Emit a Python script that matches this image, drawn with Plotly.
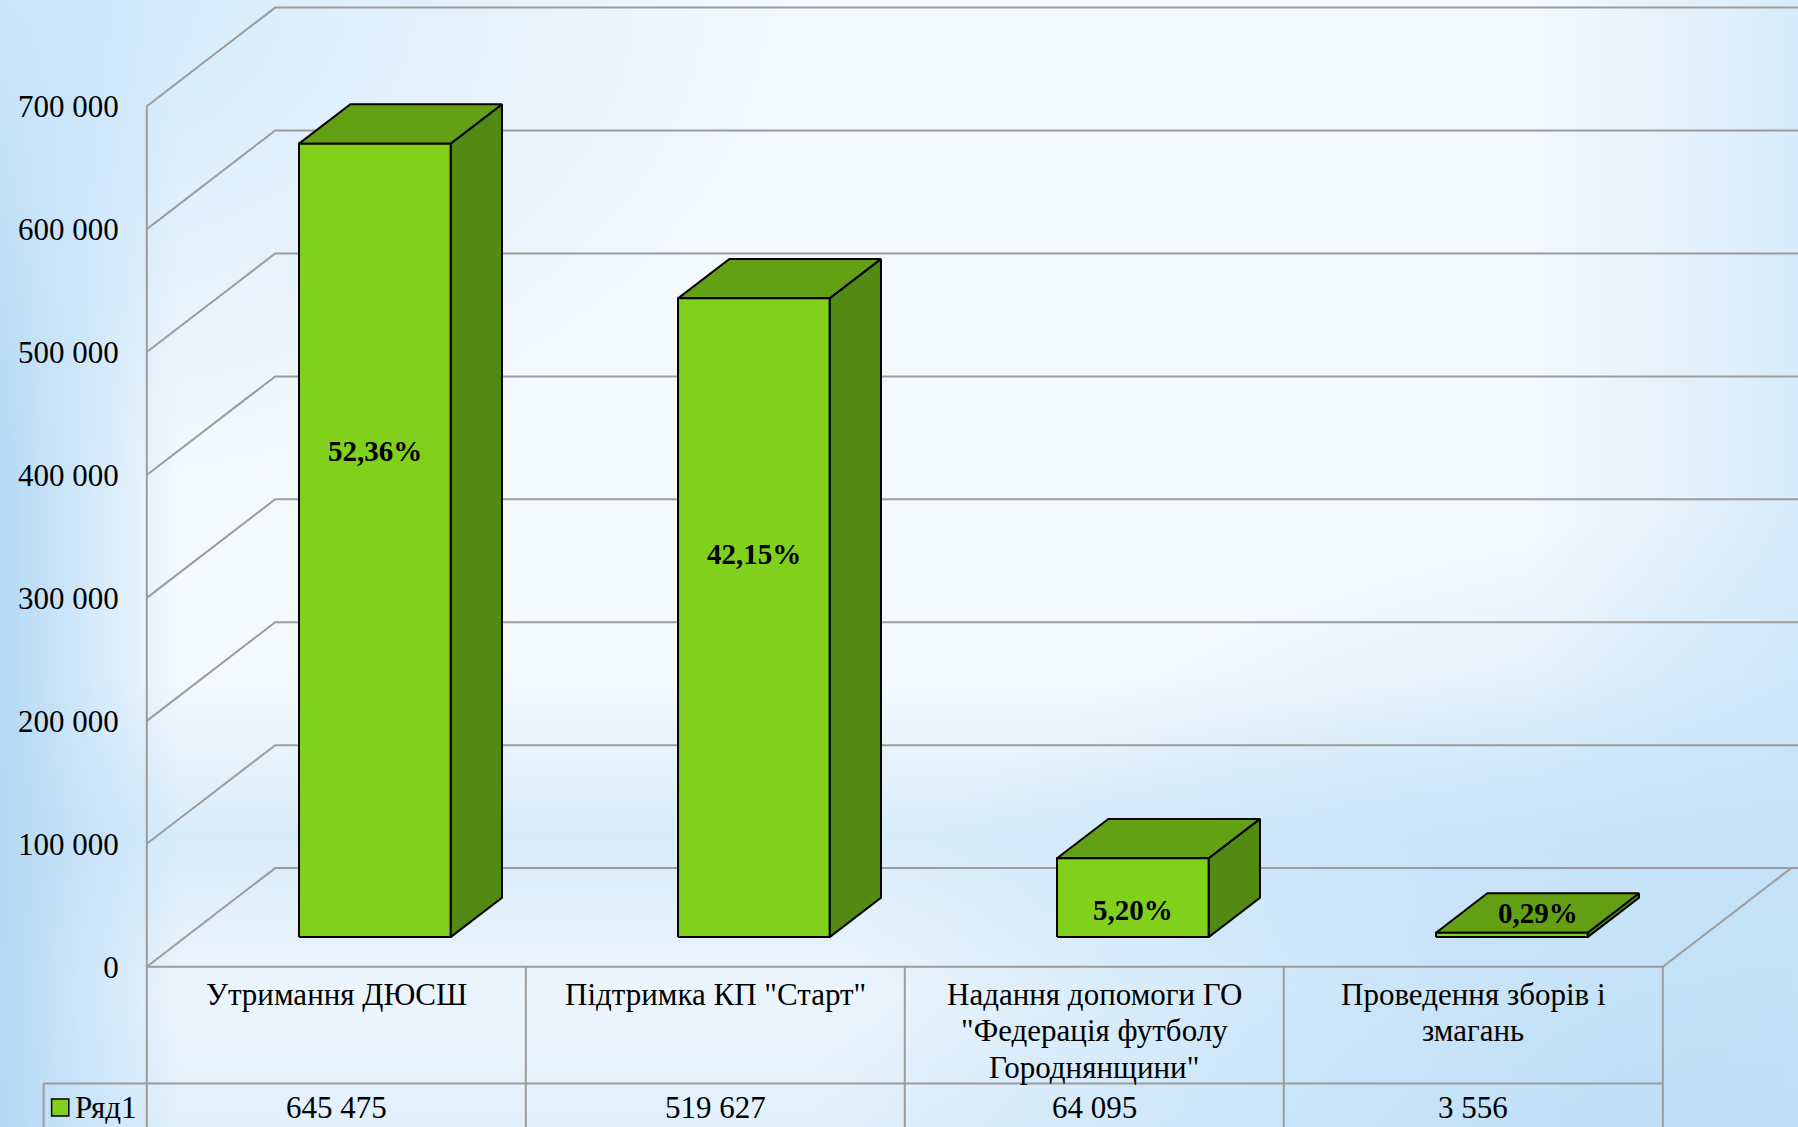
import base64
import plotly.graph_objects as go

# ---------------- data ----------------
categories = [
    'Утримання ДЮСШ',
    'Підтримка КП "Старт"',
    'Надання допомоги ГО\n"Федерація футболу\nГороднянщини"',
    'Проведення зборів і\nзмагань',
]
values = [645475, 519627, 64095, 3556]
series_name = "Ряд1"
y_ticks = [0, 100000, 200000, 300000, 400000, 500000, 600000, 700000]

# ---------------- layout constants (pixels of the 1798x1127 page) ----------------
W, H = 1798, 1127
FRONT_LEFT_PX = 146.8      # x pixel of front-left corner of the floor
PX_PER_CAT = 379.0         # pixels per category slot
ZERO_PX = 966.7            # y pixel of value 0 on the front plane
PX_PER_VAL = 0.0012293     # pixels per value unit
DX = 128.4 / PX_PER_CAT    # depth offset (category units)
DY = 98.6 / PX_PER_VAL     # depth offset (value units)
BAR_HALF = 0.2
BAR_D0, BAR_D1 = 0.3, 0.7
LABEL_FRAC = [0.613, 0.60, 0.35, 1.0]
LABEL_DEPTH = [BAR_D0, BAR_D0, BAR_D0, 0.5]

SERIF = "Liberation Serif, Times New Roman, serif"
C_FRONT, C_TOP, C_SIDE = "#80D01C", "#64A014", "#538A13"
C_GRID = "#9C9C9C"


def X(px):
    return -0.5 + (px - FRONT_LEFT_PX) / PX_PER_CAT


def Y(py):
    return (ZERO_PX - py) / PX_PER_VAL


n = len(values)
fig = go.Figure()

# ---------------- grid / walls ----------------
gx, gy = [], []
for t in y_ticks:
    gx += [-0.5, -0.5 + DX, X(W), None]
    gy += [t, t + DY, t + DY, None]
# floor front + right edge
gx += [-0.5, n - 0.5, n - 0.5 + DX, None]
gy += [0, 0, DY, None]
# front vertical axis line (also table left border)
gx += [-0.5, -0.5, None]
gy += [Y(H), y_ticks[-1], None]
# table column separators
for k in range(n):
    gx += [k + 0.5, k + 0.5, None]
    gy += [0, Y(H), None]
# table row line and legend cell
gx += [X(43.6), n - 0.5, None, X(43.6), X(43.6), None]
gy += [Y(1083.6), Y(1083.6), None, Y(1083.6), Y(H), None]
fig.add_trace(go.Scatter(x=gx, y=gy, mode="lines", line=dict(color=C_GRID, width=2),
                         hoverinfo="skip", showlegend=False))


def P(x, v, d):
    return x + d * DX, v + d * DY


def face(pts, color):
    xs = [p[0] for p in pts] + [pts[0][0]]
    ys = [p[1] for p in pts] + [pts[0][1]]
    fig.add_trace(go.Scatter(x=xs, y=ys, mode="lines", fill="toself", fillcolor=color,
                             line=dict(color="black", width=2), hoverinfo="skip",
                             showlegend=False))


total = sum(values)
annotations = []
for i, v in enumerate(values):
    xl, xr = i - BAR_HALF, i + BAR_HALF
    face([P(xr, 0, BAR_D0), P(xr, 0, BAR_D1), P(xr, v, BAR_D1), P(xr, v, BAR_D0)], C_SIDE)
    face([P(xl, v, BAR_D0), P(xr, v, BAR_D0), P(xr, v, BAR_D1), P(xl, v, BAR_D1)], C_TOP)
    face([P(xl, 0, BAR_D0), P(xr, 0, BAR_D0), P(xr, v, BAR_D0), P(xl, v, BAR_D0)], C_FRONT)
    lx, ly = P(i, v * LABEL_FRAC[i], LABEL_DEPTH[i])
    pct = f"{100 * v / total:.2f}".replace(".", ",") + "%"
    annotations.append(dict(x=lx, y=ly, text=f"<b>{pct}</b>", showarrow=False,
                            font=dict(family=SERIF, size=29, color="black")))
    # category label lines
    for k, line in enumerate(categories[i].split("\n")):
        annotations.append(dict(x=i, y=Y(994 + k * 36.7), text=line, showarrow=False,
                                font=dict(family=SERIF, size=31, color="black")))
    # value row
    annotations.append(dict(x=i, y=Y(1107.7), text=f"{v:,}".replace(",", " "), showarrow=False,
                            font=dict(family=SERIF, size=31, color="black")))

annotations.append(dict(x=X(73), y=Y(1107.7), text=series_name, showarrow=False, xanchor="left",
                        font=dict(family=SERIF, size=31, color="black")))

shapes = [dict(type="rect", xref="x", yref="y", x0=X(51.6), x1=X(68.8), y0=Y(1116), y1=Y(1099),
               fillcolor=C_FRONT, line=dict(color="black", width=1.5))]

svg = f'''<svg xmlns="http://www.w3.org/2000/svg" width="{W}" height="{H}" viewBox="0 0 {W} {H}" preserveAspectRatio="none">
<defs>
<linearGradient id="L" x1="0" y1="0" x2="1" y2="0">
<stop offset="0" stop-color="#B3D9F5" stop-opacity="1"/>
<stop offset="0.1" stop-color="#B3D9F5" stop-opacity="0"/>
</linearGradient>
<linearGradient id="R" x1="0" y1="0" x2="1" y2="0">
<stop offset="0.85" stop-color="#C4E2F8" stop-opacity="0"/>
<stop offset="1" stop-color="#C4E2F8" stop-opacity="0.6"/>
</linearGradient>
<radialGradient id="BR" cx="1" cy="1" r="0.55">
<stop offset="0" stop-color="#B8DCF6" stop-opacity="1"/>
<stop offset="0.5" stop-color="#B8DCF6" stop-opacity="0.6"/>
<stop offset="1" stop-color="#B8DCF6" stop-opacity="0"/>
</radialGradient>
<linearGradient id="B" x1="0" y1="0" x2="0" y2="1">
<stop offset="0.6" stop-color="#C6E3F8" stop-opacity="0"/>
<stop offset="0.74" stop-color="#C6E3F8" stop-opacity="0.6"/>
<stop offset="0.88" stop-color="#C6E3F8" stop-opacity="0.2"/>
<stop offset="1" stop-color="#C6E3F8" stop-opacity="0.4"/>
</linearGradient>
<radialGradient id="T" cx="0" cy="0" r="0.45">
<stop offset="0" stop-color="#CBE6FA" stop-opacity="0.9"/>
<stop offset="1" stop-color="#CBE6FA" stop-opacity="0"/>
</radialGradient>
</defs>
<rect x="0" y="0" width="{W}" height="{H}" fill="#F4F9FE"/>
<rect x="0" y="0" width="{W}" height="{H}" fill="url(#B)"/>
<rect x="0" y="0" width="{W}" height="{H}" fill="url(#BR)"/>
<rect x="0" y="0" width="{W}" height="{H}" fill="url(#L)"/>
<rect x="0" y="0" width="{W}" height="{H}" fill="url(#R)"/>
<rect x="0" y="0" width="{W}" height="{H}" fill="url(#T)"/>
</svg>'''
bg_src = "data:image/svg+xml;base64," + base64.b64encode(svg.encode("utf-8")).decode("ascii")

fig.update_layout(
    width=W, height=H,
    margin=dict(l=0, r=0, t=0, b=0),
    paper_bgcolor="#F4F9FE",
    plot_bgcolor="rgba(0,0,0,0)",
    separators=", ",
    showlegend=False,
    xaxis=dict(range=[X(0), X(W)], visible=False, fixedrange=True),
    yaxis=dict(range=[Y(H), Y(0)], tickvals=y_ticks, tickformat=",d",
               showgrid=False, zeroline=False, showline=False, ticks="",
               anchor="free", position=FRONT_LEFT_PX / W, automargin=False,
               ticklabelstandoff=28, fixedrange=True,
               tickfont=dict(family=SERIF, size=31, color="black")),
    annotations=annotations,
    shapes=shapes,
    images=[dict(source=bg_src, xref="paper", yref="paper", x=0, y=1, sizex=1, sizey=1,
                 sizing="stretch", layer="below", xanchor="left", yanchor="top")],
)

fig.write_html("out.html", config={"displayModeBar": False},
               post_script="document.body.style.margin='0';")
